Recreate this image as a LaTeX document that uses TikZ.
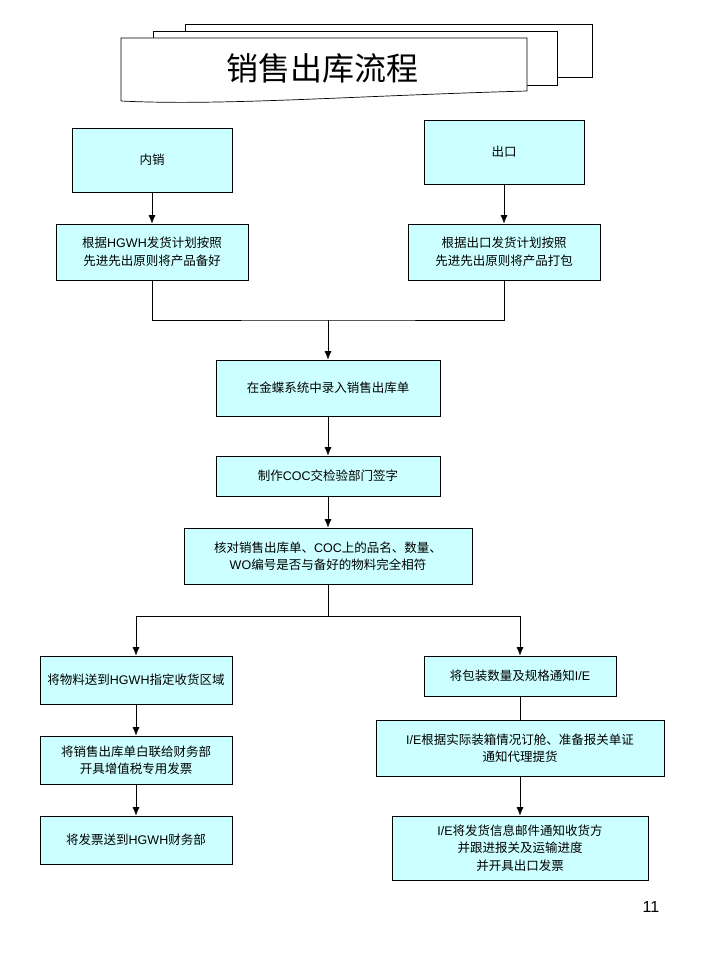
\documentclass[tikz,border=0pt]{standalone}
\usepackage{fontspec}
\setmainfont{Noto Sans CJK SC}
\newfontfamily\lat{Liberation Sans}
\usepackage{tikz}
\usetikzlibrary{arrows.meta}
\usetikzlibrary{positioning}
\definecolor{boxfill}{RGB}{204,255,255}
\newcommand{\en}[1]{{\lat #1}}

\begin{document}
\begin{tikzpicture}
    [
    x=1pt,y=-1pt,
    line width=0.7pt,
    stepbox/.style={rectangle,draw,fill=boxfill,align=center,inner sep=2pt,
      font=\fontsize{12.5}{17.5}\selectfont},
    sheet/.style={draw,fill=white},
    arr/.style={-{Latex[length=8.5pt,width=7pt]}}
    ]
    \useasboundingbox (0,0) rectangle (720,960);
    % title sheets
    \draw [sheet] (185,24) rectangle (592,77);
    \draw [sheet] (153,31) rectangle (557,85);
    \draw [sheet] (121,101) -- (121,38) -- (527,38) -- (527,91)
      .. controls (350,96) and (220,106) .. (121,101);
    \node (title) at (322,68) {\fontsize{32}{36}\selectfont 销售出库流程};
    % boxes
    \node (dom) at (152,160) [stepbox,minimum width=160pt,minimum height=64pt] {内销};
    \node (exp) at (504,152) [stepbox,minimum width=160pt,minimum height=64pt] {出口};
    \node (domprep) at (152,252) [stepbox,minimum width=192pt,minimum height=56pt] {根据\en{HGWH}发货计划按照\\先进先出原则将产品备好};
    \node (expprep) at (504,252) [stepbox,minimum width=192pt,minimum height=56pt] {根据出口发货计划按照\\先进先出原则将产品打包};
    \node (entry) at (328,388) [stepbox,minimum width=224pt,minimum height=56pt] {在金蝶系统中录入销售出库单};
    \node (coc) at (328,476) [stepbox,minimum width=224pt,minimum height=40pt] {制作\en{COC}交检验部门签字};
    \node (check) at (328,556) [stepbox,minimum width=288pt,minimum height=56pt] {核对销售出库单、\en{COC}上的品名、数量、\\\en{WO}编号是否与备好的物料完全相符};
    \node (send) at (136,680) [stepbox,minimum width=192pt,minimum height=48pt] {将物料送到\en{HGWH}指定收货区域};
    \node (white) at (136,760) [stepbox,minimum width=192pt,minimum height=48pt] {将销售出库单白联给财务部\\开具增值税专用发票};
    \node (hginv) at (136,840) [stepbox,minimum width=192pt,minimum height=48pt] {将发票送到\en{HGWH}财务部};
    \node (pack) at (520,676) [stepbox,minimum width=192pt,minimum height=40pt] {将包装数量及规格通知\en{I/E}};
    \node (book) at (520,748) [stepbox,minimum width=288pt,minimum height=56pt] {\en{I/E}根据实际装箱情况订舱、准备报关单证\\通知代理提货};
    \node (mail) at (520,848) [stepbox,minimum width=256pt,minimum height=64pt] {\en{I/E}将发货信息邮件通知收货方\\并跟进报关及运输进度\\并开具出口发票};
    \node (page) at (651,907) {\fontsize{16}{18}\selectfont\en{11}};
    % junctions
    \coordinate (m1) at (328,320);
    \coordinate (m2) at (328,616);
    % connectors
    \draw [arr] (dom) to (domprep);
    \draw [arr] (exp) to (expprep);
    \draw (domprep) |- (m1) -| (expprep);
    \draw [arr] (m1) to (entry);
    \draw [arr] (entry) to (coc);
    \draw [arr] (coc) to (check);
    \draw (check) to (m2);
    \draw [arr] (m2) -| (send);
    \draw [arr] (m2) -| (pack);
    \draw [arr] (send) to (white);
    \draw [arr] (white) to (hginv);
    \draw (pack) to (book);
    \draw [arr] (book) to (mail);
  \end{tikzpicture}
\end{document}
